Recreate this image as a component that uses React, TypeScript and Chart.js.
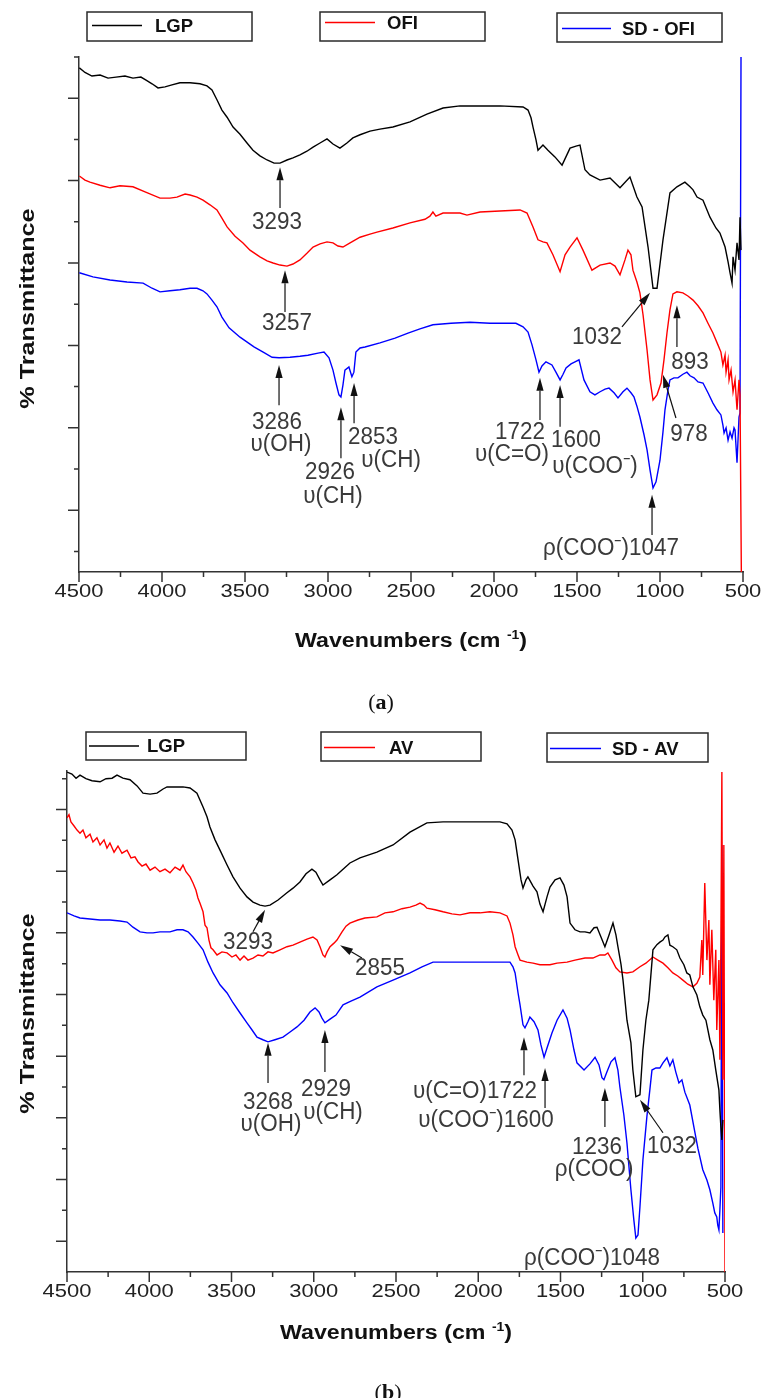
import React, { useEffect, useRef } from "react";
import { Chart, registerables } from "chart.js";

Chart.register(...registerables);

// ---------------- Shared axis data ----------------
const xMajorTicks = [4500, 4000, 3500, 3000, 2500, 2000, 1500, 1000, 500];
const xMajorLabels = ["4500", "4000", "3500", "3000", "2500", "2000", "1500", "1000", "500"];
const xMinorTicks = [4250, 3750, 3250, 2750, 2250, 1750, 1250, 750];

// ---------------- Panel (a) ----------------
const seriesNamesA = ["LGP", "OFI", "SD - OFI"];
const seriesColorsA = ["#000000", "#ff0000", "#0000ff"];
const yMajorA = [12, 28, 44, 60, 76, 92];
const yMinorA = [4, 20, 36, 52, 68, 84, 100];

const lgpA_wn = [4498,4464,4422,4373,4325,4277,4223,4175,4127,4096,4060,4024,3982,3940,3892,3831,3771,3729,3699,3669,3639,3608,3572,3530,3488,3452,3410,3367,3325,3289,3247,3211,3169,3127,3090,3048,3006,2970,2928,2886,2850,2807,2747,2687,2609,2506,2404,2307,2205,2084,1964,1825,1795,1777,1765,1747,1735,1705,1675,1633,1590,1542,1506,1482,1452,1422,1361,1301,1241,1181,1139,1108,1072,1042,1018,982,940,898,850,819,801,777,741,699,663,639,608,590,578,566,560,548,536,524,518,512];
const lgpA_t = [97.9,97.0,96.3,96.5,95.9,96.1,96.3,95.9,96.1,95.5,94.8,94.0,94.2,94.6,95.0,95.0,94.8,94.4,93.6,91.7,89.7,88.3,86.4,85.0,83.3,81.9,80.8,80.0,79.4,79.4,80.0,80.4,81.0,81.7,82.5,83.3,84.1,83.1,82.3,83.3,84.3,84.9,85.6,86.0,86.4,87.4,88.9,90.1,90.5,90.5,90.5,90.3,89.7,88.2,86.4,83.9,81.9,82.9,81.9,80.6,79.0,82.3,82.7,82.9,78.1,77.1,76.1,76.5,74.6,76.7,72.8,70.9,63.1,55.1,55.1,64.5,73.6,74.8,75.7,74.8,74.2,72.8,72.2,68.9,66.8,65.8,63.1,60.2,58.1,56.1,61.2,58.6,63.9,60.6,68.9,62.5];

const ofiA_wn = [4498,4464,4434,4373,4313,4253,4175,4102,4012,3952,3910,3861,3831,3789,3753,3711,3669,3639,3608,3560,3512,3470,3410,3367,3331,3289,3247,3211,3169,3127,3090,3048,3006,2970,2940,2910,2867,2807,2747,2705,2609,2506,2416,2386,2368,2350,2307,2205,2163,2084,1964,1843,1801,1765,1735,1705,1681,1645,1602,1572,1542,1500,1464,1410,1361,1301,1271,1241,1211,1193,1175,1163,1139,1121,1102,1078,1060,1042,1018,994,976,958,940,922,898,862,832,801,771,741,711,681,651,633,621,608,602,590,584,572,560,548,536,524,518,510];
const ofiA_t = [76.9,76.1,75.7,75.1,74.6,75.0,74.8,73.8,72.6,72.6,72.8,73.4,73.2,72.8,72.2,71.3,70.3,68.7,67.0,65.2,63.9,62.5,61.2,60.4,60.0,59.6,59.4,59.8,60.6,61.9,63.1,63.7,64.1,63.9,63.3,63.1,63.9,65.0,65.6,66.0,66.8,67.8,68.5,69.1,69.9,69.1,69.7,69.7,69.3,69.9,70.1,70.3,69.7,67.0,64.5,64.1,63.9,61.6,58.3,61.6,63.1,64.9,62.5,58.6,59.6,60.0,59.4,57.7,60.6,62.5,61.6,58.6,56.3,54.2,49.9,43.1,37.3,33.4,34.4,36.7,41.2,46.4,50.9,54.0,54.4,54.2,53.6,52.8,51.7,50.3,48.3,46.4,44.1,42.7,40.2,42.1,38.8,41.2,37.3,39.2,35.0,37.3,31.5,37.3,34.4,0];

const sdA_wn = [4498,4416,4313,4211,4114,4060,4012,3952,3892,3831,3789,3753,3729,3699,3669,3639,3596,3530,3446,3380,3337,3295,3229,3169,3121,3060,3024,2994,2970,2952,2934,2922,2910,2898,2874,2856,2844,2832,2807,2777,2687,2596,2518,2446,2368,2259,2145,2024,1868,1825,1795,1771,1747,1729,1711,1687,1651,1627,1602,1584,1566,1536,1512,1488,1458,1422,1392,1361,1331,1307,1277,1253,1223,1199,1175,1157,1139,1121,1096,1078,1060,1042,1024,1000,982,970,952,940,916,892,862,838,819,795,771,741,711,681,657,633,621,614,602,590,578,566,554,548,536,524,518,512];
const sdA_t = [58.1,57.3,56.7,56.3,56.1,55.1,54.4,54.6,54.8,55.1,55.1,54.6,54.0,52.8,51.5,49.5,47.4,45.6,43.7,42.5,41.7,41.6,41.7,41.9,42.1,42.5,42.7,41.6,39.2,36.7,34.4,34.0,36.3,39.2,39.8,37.9,38.8,42.7,43.5,43.7,44.5,45.4,46.4,47.2,48.0,48.3,48.5,48.3,48.3,47.6,46.6,44.1,41.2,38.8,40.0,40.8,40.2,38.8,37.3,38.4,39.6,40.4,40.8,41.2,37.3,35.0,34.4,35.0,35.5,35.7,34.8,33.8,35.0,35.7,34.8,34.0,32.2,30.1,26.6,23.7,19.8,16.3,17.5,21.7,27.2,31.5,35.3,37.3,37.7,37.7,38.4,38.8,38.1,37.7,36.9,36.7,34.8,32.8,31.5,30.5,28.5,27.0,28.0,25.6,27.2,26.0,28.0,27.6,21.2,30.1,30.9,100];

const labelsA = [
  { text: "3293", wn: 3307, t: 67.9 },
  { text: "3257", wn: 3247, t: 48.2 },
  { text: "1032", wn: 1380, t: 45.6 },
  { text: "893", wn: 819, t: 40.8 },
  { text: "978", wn: 825, t: 26.8 },
  { text: "3286", wn: 3307, t: 29.1 },
  { text: "υ(OH)", wn: 3283, t: 24.7 },
  { text: "2926", wn: 2988, t: 19.4 },
  { text: "υ(CH)", wn: 2970, t: 14.6 },
  { text: "2853", wn: 2729, t: 26.2 },
  { text: "υ(CH)", wn: 2620, t: 21.7 },
  { text: "1722", wn: 1843, t: 27.2 },
  { text: "υ(C=O)", wn: 1892, t: 22.9 },
  { text: "1600", wn: 1506, t: 25.6 },
  { text: "υ(COO⁻)", wn: 1392, t: 20.6 },
  { text: "ρ(COO⁻)1047", wn: 1295, t: 4.5 },
];
const arrowsA = [
  { from: [3289, 70.7], to: [3289, 78.6] },
  { from: [3259, 50.5], to: [3259, 58.6] },
  { from: [1229, 47.6], to: [1060, 54.2] },
  { from: [898, 43.7], to: [898, 51.8] },
  { from: [904, 29.9], to: [982, 38.3] },
  { from: [3295, 32.4], to: [3295, 40.2] },
  { from: [2922, 22.1], to: [2922, 32.0] },
  { from: [2843, 28.9], to: [2843, 36.7] },
  { from: [1723, 29.5], to: [1723, 37.7] },
  { from: [1602, 28.2], to: [1602, 36.3] },
  { from: [1048, 7.2], to: [1048, 15.0] },
];

// ---------------- Panel (b) ----------------
const seriesNamesB = ["LGP", "AV", "SD - AV"];
const seriesColorsB = ["#000000", "#ff0000", "#0000ff"];
const yMajorB = [6, 18, 30, 42, 54, 66, 78, 90];
const yMinorB = [12, 24, 36, 48, 60, 72, 84, 96];

const lgpB_wn = [4500,4470,4445,4421,4385,4348,4299,4263,4226,4196,4160,4117,4074,4038,3995,3953,3916,3892,3843,3795,3752,3710,3673,3649,3631,3600,3570,3527,3491,3448,3406,3369,3327,3296,3266,3217,3163,3126,3084,3047,3011,2987,2962,2944,2901,2859,2822,2780,2719,2616,2518,2415,2312,2214,2111,1989,1868,1825,1795,1776,1758,1740,1728,1710,1698,1667,1643,1625,1606,1582,1564,1533,1503,1479,1460,1442,1412,1381,1351,1321,1296,1278,1254,1230,1205,1181,1163,1151,1132,1120,1108,1096,1072,1060,1042,1017,999,981,963,938,914,896,877,865,847,835,817,793,774,750,732,714,695,671,653,635,616,592,574,556,537,531,525,519,513];
const lgpB_t = [97.3,96.9,96.1,96.7,96.0,95.6,95.4,96.0,96.1,96.7,96.1,95.8,94.6,93.2,93.0,93.2,94.0,94.4,94.4,94.4,94.2,93.2,90.5,88.6,86.6,84.1,82.1,79.2,76.9,74.7,73.0,72.0,71.4,71.2,71.4,72.4,73.8,74.7,75.9,77.5,78.4,77.8,76.3,75.3,76.3,77.3,78.4,79.6,80.6,81.7,83.1,85.6,87.4,87.6,87.6,87.6,87.6,87.2,86.0,84.1,80.2,76.3,74.7,76.3,76.9,75.1,74.0,71.6,70.1,73.0,74.9,76.3,76.7,75.3,73.0,67.9,66.6,66.2,66.2,66.0,67.0,67.1,65.2,63.3,65.6,67.9,65.6,63.3,59.8,56.8,52.9,49.0,44.6,39.3,34.1,34.5,43.2,49.0,52.9,62.7,63.7,64.2,64.6,65.2,65.6,63.6,63.3,62.7,61.1,59.8,58.2,57.8,55.5,53.9,51.6,50.0,49.0,45.2,43.2,39.3,35.4,31.5,28.2,25.7,29.6];

const avB_wn = [4500,4488,4476,4457,4439,4421,4403,4385,4360,4342,4318,4299,4275,4257,4239,4214,4190,4166,4135,4111,4087,4068,4044,4020,3995,3965,3935,3904,3874,3843,3813,3795,3777,3752,3734,3716,3704,3692,3673,3661,3649,3637,3625,3612,3588,3558,3527,3497,3473,3448,3424,3400,3369,3339,3309,3278,3248,3205,3163,3126,3084,3041,3005,2980,2962,2944,2932,2919,2901,2877,2859,2828,2804,2780,2731,2689,2616,2567,2518,2464,2415,2379,2354,2330,2312,2263,2214,2160,2111,2050,1989,1929,1868,1825,1807,1789,1776,1758,1746,1704,1667,1625,1564,1521,1460,1412,1351,1303,1260,1230,1212,1187,1163,1139,1096,1060,1017,981,938,908,877,847,817,787,756,726,695,671,653,641,635,623,610,598,592,580,568,556,550,537,531,525,519,513,507,500];
const avB_t = [88.4,89.0,87.6,86.8,86.0,85.4,86.0,84.5,85.2,83.7,84.5,83.1,84.1,82.5,83.5,81.7,82.9,81.5,82.1,80.6,80.8,79.8,79.0,79.4,78.2,78.8,77.9,78.4,77.7,78.8,78.2,79.2,77.9,76.9,75.7,74.3,72.8,71.8,70.1,67.5,67.0,64.6,63.1,62.7,61.7,62.3,62.1,61.3,61.7,60.7,61.5,60.7,61.1,61.7,61.5,62.3,62.1,62.7,63.3,63.6,64.2,64.8,65.2,64.6,63.3,61.7,61.3,62.3,63.3,64.0,64.6,66.2,67.3,67.9,68.5,68.9,69.1,69.9,70.1,70.7,71.0,71.4,71.8,71.4,70.8,70.5,70.1,69.7,69.5,69.9,69.9,70.1,69.9,69.3,67.9,65.6,63.3,61.7,60.7,60.3,60.1,59.8,59.8,60.1,60.3,60.7,61.1,61.1,61.7,61.7,62.1,60.7,59.2,58.4,58.2,58.4,59.4,60.1,61.3,60.7,60.1,59.2,58.2,57.6,56.8,56.0,55.5,56.2,57.4,64.6,57.8,75.7,60.7,68.5,55.9,66.6,52.9,62.7,47.1,60.7,41.3,64.6,97.3,37.4,83.1,0];

const sdB_wn = [4500,4457,4421,4360,4299,4239,4178,4135,4099,4056,4014,3977,3935,3874,3831,3795,3764,3734,3704,3673,3643,3612,3570,3527,3491,3448,3406,3375,3345,3309,3278,3236,3187,3144,3102,3059,3023,2992,2968,2950,2932,2901,2865,2822,2774,2719,2616,2518,2415,2342,2275,2172,2050,1929,1807,1789,1776,1758,1746,1728,1716,1698,1686,1661,1637,1619,1600,1582,1552,1521,1485,1460,1442,1418,1400,1357,1321,1290,1266,1248,1236,1218,1193,1169,1151,1139,1115,1096,1072,1054,1042,1029,1017,999,975,957,944,920,896,877,853,835,817,799,780,762,744,714,689,665,635,610,592,574,562,550,544,537,531,525,519,513];
const sdB_t = [69.9,69.3,68.9,68.7,68.5,68.5,68.3,68.1,67.1,66.2,66.0,66.0,66.2,66.2,66.6,66.6,66.2,65.2,64.0,62.7,60.3,58.2,55.9,54.3,52.4,50.4,48.5,47.1,45.7,45.2,44.8,45.2,45.7,46.7,47.7,49.0,50.6,51.4,50.6,49.4,48.5,49.2,50.0,52.0,52.7,53.5,55.5,56.8,58.2,59.4,60.3,60.3,60.3,60.3,60.3,59.4,58.2,54.3,52.0,48.1,47.5,48.7,49.6,48.7,47.1,44.2,41.8,43.6,46.5,49.0,51.0,49.4,47.1,43.2,40.7,39.3,40.5,41.8,40.3,37.8,37.4,38.9,40.9,41.7,39.3,36.0,30.6,25.1,16.0,10.1,6.6,7.2,12.7,21.8,30.2,35.4,39.3,39.7,39.7,40.7,41.7,40.1,41.3,38.9,36.8,37.4,35.0,32.5,28.2,24.1,19.9,17.9,16.0,13.4,11.5,10.7,9.1,8.2,12.1,16.5,83.1,7.6];

const labelsB = [
  { text: "3293", wn: 3400, t: 64.2 },
  { text: "2855", wn: 2597, t: 59.0 },
  { text: "3268", wn: 3278, t: 33.1 },
  { text: "υ(OH)", wn: 3260, t: 28.8 },
  { text: "2929", wn: 2926, t: 35.6 },
  { text: "υ(CH)", wn: 2883, t: 31.1 },
  { text: "υ(C=O)1722", wn: 2020, t: 35.2 },
  { text: "υ(COO⁻)1600", wn: 1953, t: 29.6 },
  { text: "1236", wn: 1278, t: 24.3 },
  { text: "ρ(COO)", wn: 1296, t: 19.9 },
  { text: "1032", wn: 822, t: 24.5 },
  { text: "ρ(COO⁻)1048", wn: 1309, t: 2.7 },
];
const arrowsB = [
  { from: [3369, 66.2], to: [3296, 70.5] },
  { from: [2707, 61.1], to: [2840, 63.6] },
  { from: [3278, 36.8], to: [3278, 44.6] },
  { from: [2932, 38.9], to: [2932, 47.1] },
  { from: [1722, 38.3], to: [1722, 45.7] },
  { from: [1594, 31.9], to: [1594, 39.7] },
  { from: [1230, 28.2], to: [1230, 35.8] },
  { from: [877, 27.1], to: [1017, 33.5] },
];

// ---------------- Styling / layout ----------------
const SANS = "'Liberation Sans', Arial, Helvetica, sans-serif";
const AXIS = "#333333";

const panelA = {
  top: 0,
  height: 720,
  area: { left: 79, right: 743, top: 57, bottom: 572 },
  yMax: 100,
  yMajor: yMajorA,
  yMinor: yMinorA,
  names: seriesNamesA,
  colors: seriesColorsA,
  wn: [lgpA_wn, ofiA_wn, sdA_wn],
  t: [lgpA_t, ofiA_t, sdA_t],
  labels: labelsA,
  arrows: arrowsA,
  legend: [
    { x: 87, y: 12, w: 165, h: 29, lx1: 92, lx2: 142, tx: 155, dy: -1 },
    { x: 320, y: 12, w: 165, h: 29, lx1: 325, lx2: 375, tx: 387, dy: -4 },
    { x: 557, y: 13, w: 165, h: 29, lx1: 562, lx2: 611, tx: 622, dy: 1 },
  ],
  tickLabelDy: 20,
  xTitleDy: 75,
  yTitleX: 28,
  yTitleDy: -6,
};

const panelB = {
  top: 720,
  height: 678,
  area: { left: 67, right: 725, top: 51, bottom: 552 },
  yMax: 97.5,
  yMajor: yMajorB,
  yMinor: yMinorB,
  names: seriesNamesB,
  colors: seriesColorsB,
  wn: [lgpB_wn, avB_wn, sdB_wn],
  t: [lgpB_t, avB_t, sdB_t],
  labels: labelsB,
  arrows: arrowsB,
  legend: [
    { x: 86, y: 12, w: 160, h: 28, lx1: 89, lx2: 139, tx: 147, dy: 0 },
    { x: 321, y: 12, w: 160, h: 29, lx1: 324, lx2: 375, tx: 389, dy: 1 },
    { x: 547, y: 13, w: 161, h: 29, lx1: 550, lx2: 601, tx: 612, dy: 1 },
  ],
  tickLabelDy: 20,
  xTitleDy: 67,
  yTitleX: 28,
  yTitleDy: -8,
};

function stretchedText(ctx: any, text: string, x: number, y: number, font: string, sx: number, sy: number, align: string, baseline: string, color: string) {
  ctx.save();
  ctx.translate(x, y);
  ctx.scale(sx, sy);
  ctx.font = font;
  ctx.fillStyle = color;
  ctx.textAlign = align;
  ctx.textBaseline = baseline;
  ctx.fillText(text, 0, 0);
  ctx.restore();
}

function makeDecor(cfg: any) {
  return {
    id: "decor",
    afterDraw(chart: any) {
      const ctx = chart.ctx;
      const xs = chart.scales.x;
      const ys = chart.scales.y;
      const a = chart.chartArea;
      ctx.save();

      // tick marks
      ctx.strokeStyle = AXIS;
      ctx.lineWidth = 1.5;
      ctx.beginPath();
      for (const v of xMajorTicks) {
        const px = xs.getPixelForValue(v);
        ctx.moveTo(px, a.bottom);
        ctx.lineTo(px, a.bottom + 10);
      }
      for (const v of xMinorTicks) {
        const px = xs.getPixelForValue(v);
        ctx.moveTo(px, a.bottom);
        ctx.lineTo(px, a.bottom + 5);
      }
      for (const v of cfg.yMajor) {
        const py = ys.getPixelForValue(v);
        ctx.moveTo(a.left, py);
        ctx.lineTo(a.left - 11, py);
      }
      for (const v of cfg.yMinor) {
        const py = ys.getPixelForValue(v);
        ctx.moveTo(a.left, py);
        ctx.lineTo(a.left - 5, py);
      }
      ctx.stroke();

      // tick labels
      xMajorTicks.forEach((v, i) => {
        const px = xs.getPixelForValue(v);
        stretchedText(ctx, xMajorLabels[i], px, a.bottom + cfg.tickLabelDy, `18px ${SANS}`, 1.22, 1, "center", "middle", "#222");
      });

      // x title with superscript
      {
        const big = `bold 20px ${SANS}`;
        const small = `bold 12px ${SANS}`;
        const sx = 1.16;
        const part1 = "Wavenumbers (cm ";
        const sup = "-1";
        const part3 = ")";
        ctx.font = big;
        const w1 = ctx.measureText(part1).width;
        const w3 = ctx.measureText(part3).width;
        ctx.font = small;
        const w2 = ctx.measureText(sup).width;
        const total = (w1 + w2 + w3) * sx;
        const cx = (a.left + a.right) / 2;
        ctx.save();
        ctx.translate(cx - total / 2, a.bottom + cfg.xTitleDy);
        ctx.scale(sx, 1);
        ctx.fillStyle = "#111";
        ctx.textAlign = "left";
        ctx.textBaseline = "alphabetic";
        ctx.font = big;
        ctx.fillText(part1, 0, 0);
        ctx.font = small;
        ctx.fillText(sup, w1, -8);
        ctx.font = big;
        ctx.fillText(part3, w1 + w2, 0);
        ctx.restore();
      }

      // y title
      ctx.save();
      ctx.translate(cfg.yTitleX, (a.top + a.bottom) / 2 + cfg.yTitleDy);
      ctx.rotate(-Math.PI / 2);
      ctx.scale(1.2, 1);
      ctx.font = `bold 21px ${SANS}`;
      ctx.fillStyle = "#111";
      ctx.textAlign = "center";
      ctx.textBaseline = "middle";
      ctx.fillText("% Transmittance", 0, 0);
      ctx.restore();

      // legend boxes
      cfg.legend.forEach((b: any, i: number) => {
        ctx.strokeStyle = "#2a2a2a";
        ctx.lineWidth = 1.5;
        ctx.strokeRect(b.x, b.y, b.w, b.h);
        const cy = b.y + b.h / 2 + b.dy;
        ctx.strokeStyle = cfg.colors[i];
        ctx.lineWidth = 1.6;
        ctx.beginPath();
        ctx.moveTo(b.lx1, cy);
        ctx.lineTo(b.lx2, cy);
        ctx.stroke();
        ctx.font = `bold 18.5px ${SANS}`;
        ctx.fillStyle = "#111";
        ctx.textAlign = "left";
        ctx.textBaseline = "middle";
        ctx.fillText(cfg.names[i], b.tx, cy + 1);
      });

      // annotation arrows
      ctx.strokeStyle = "#111";
      ctx.fillStyle = "#111";
      ctx.lineWidth = 1.2;
      for (const ar of cfg.arrows) {
        const x1 = xs.getPixelForValue(ar.from[0]);
        const y1 = ys.getPixelForValue(ar.from[1]);
        const x2 = xs.getPixelForValue(ar.to[0]);
        const y2 = ys.getPixelForValue(ar.to[1]);
        const ang = Math.atan2(y2 - y1, x2 - x1);
        const hl = 13;
        const hw = 3.6;
        const bx = x2 - hl * Math.cos(ang);
        const by = y2 - hl * Math.sin(ang);
        ctx.beginPath();
        ctx.moveTo(x1, y1);
        ctx.lineTo(bx, by);
        ctx.stroke();
        ctx.beginPath();
        ctx.moveTo(x2, y2);
        ctx.lineTo(bx + hw * Math.sin(ang), by - hw * Math.cos(ang));
        ctx.lineTo(bx - hw * Math.sin(ang), by + hw * Math.cos(ang));
        ctx.closePath();
        ctx.fill();
      }

      // annotation labels
      for (const l of cfg.labels) {
        const px = xs.getPixelForValue(l.wn);
        const py = ys.getPixelForValue(l.t);
        stretchedText(ctx, l.text, px, py, `22px ${SANS}`, 1.02, 1.1, "center", "middle", "#3a3a3a");
      }

      ctx.restore();
    },
  };
}

function Panel({ cfg }: { cfg: any }) {
  const ref = useRef<HTMLCanvasElement | null>(null);
  useEffect(() => {
    const canvas = ref.current;
    if (!canvas) return;
    const W = 763;
    const H = cfg.height;
    const datasets = cfg.wn.map((wns: number[], k: number) => {
      const ts = cfg.t[k];
      const n = Math.min(wns.length, ts.length);
      const data = [];
      for (let i = 0; i < n; i++) data.push({ x: wns[i], y: ts[i] });
      return {
        label: cfg.names[k],
        data,
        borderColor: cfg.colors[k],
        backgroundColor: cfg.colors[k],
        borderWidth: 1.4,
        pointRadius: 0,
        fill: false,
        tension: 0,
      };
    });
    const chart = new Chart(canvas, {
      type: "line",
      data: { datasets },
      options: {
        animation: false,
        responsive: false,
        maintainAspectRatio: false,
        events: [],
        layout: {
          autoPadding: false,
          padding: { top: cfg.area.top, right: W - cfg.area.right, bottom: 0, left: 0 },
        },
        plugins: {
          legend: { display: false },
          tooltip: { enabled: false },
          title: { display: false },
        },
        scales: {
          x: {
            type: "linear",
            reverse: true,
            min: 500,
            max: 4500,
            grid: { display: false, drawTicks: false },
            border: { display: true, color: AXIS, width: 1.5 },
            ticks: { display: false },
            afterFit: (s: any) => {
              s.height = H - cfg.area.bottom;
            },
          },
          y: {
            type: "linear",
            min: 0,
            max: cfg.yMax,
            grid: { display: false, drawTicks: false },
            border: { display: true, color: AXIS, width: 1.5 },
            ticks: { display: false },
            afterFit: (s: any) => {
              s.width = cfg.area.left;
            },
          },
        },
      } as any,
      plugins: [makeDecor(cfg)],
    });
    return () => chart.destroy();
  }, [cfg]);
  return (
    <canvas
      ref={ref}
      width={763}
      height={cfg.height}
      style={{ position: "absolute", left: 0, top: cfg.top, width: 763, height: cfg.height, display: "block" }}
    />
  );
}

const captionStyle: React.CSSProperties = {
  position: "absolute",
  width: 100,
  textAlign: "center",
  fontFamily: "'Liberation Serif', 'Times New Roman', serif",
  fontSize: 22,
  lineHeight: "24px",
  color: "#111",
};

export default function App() {
  return (
    <div style={{ position: "absolute", left: 0, top: 0, width: 763, height: 1398, background: "#fff", overflow: "hidden" }}>
      <Panel cfg={panelA} />
      <Panel cfg={panelB} />
      <div style={{ ...captionStyle, left: 331, top: 690 }}>
        (<b>a</b>)
      </div>
      <div style={{ ...captionStyle, left: 338, top: 1380 }}>
        (<b>b</b>)
      </div>
    </div>
  );
}
